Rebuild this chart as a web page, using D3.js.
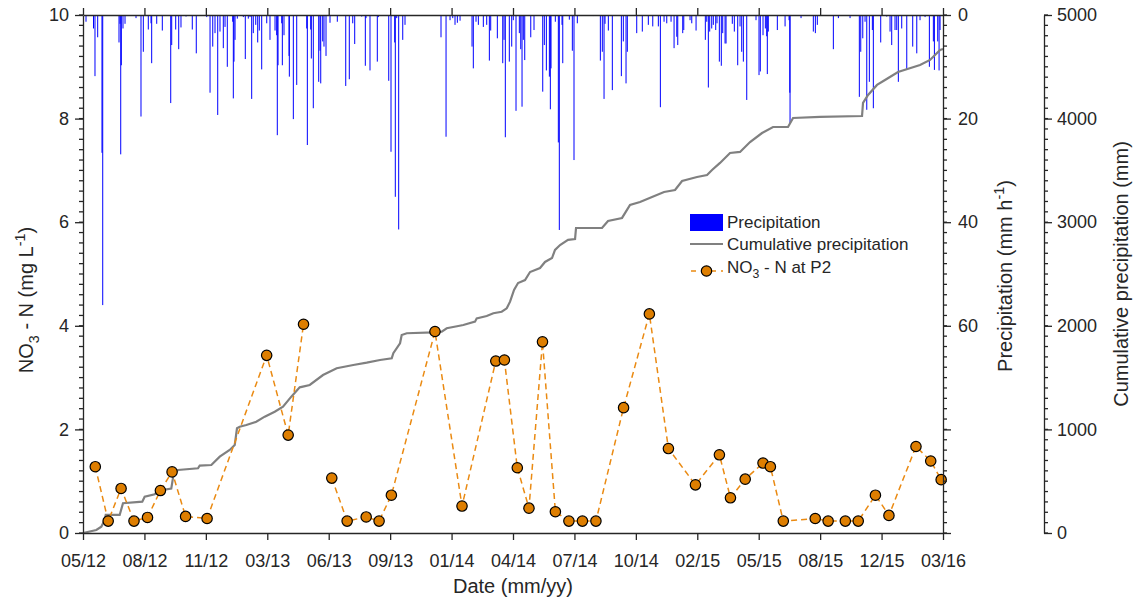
<!DOCTYPE html>
<html>
<head>
<meta charset="utf-8">
<script src="https://cdn.jsdelivr.net/npm/d3@7"></script>
<style>
  body { margin: 0; background: #fff; }
  text { font-family: "Liberation Sans", Arial, sans-serif; fill: #262626; }
</style>
</head>
<body>
<svg id="chart" width="1134" height="602"></svg>
<script>
// ---- data ---------------------------------------------------------------
const startDate = "2012-05-12";
const endDate = "2016-03-12";
const tickStepDays = 100;           // date ticks every 100 days
const tickCount = 15;

// NO3-N samples at P2 (mg/L); null = no sample analysed
const sampleDates = [
  "2012-06-01","2012-06-22","2012-07-13","2012-08-03","2012-08-25","2012-09-15",
  "2012-10-04","2012-10-26","2012-11-30","2013-03-07","2013-04-11","2013-05-06",
  "2013-05-28",
  "2013-06-21","2013-07-16","2013-08-16","2013-09-06","2013-09-26","2013-12-06",
  "2014-01-19","2014-03-15","2014-03-29","2014-04-19","2014-05-08","2014-05-30",
  "2014-06-20","2014-07-12","2014-08-03","2014-08-25","2014-10-09","2014-11-20",
  "2014-12-21","2015-02-03","2015-03-14","2015-04-01","2015-04-25","2015-05-24",
  "2015-06-05","2015-06-26","2015-08-17","2015-09-07","2015-10-05","2015-10-26",
  "2015-11-23","2015-12-15","2016-01-28","2016-02-21","2016-03-09"
];
const no3Values = [
  1.28, 0.23, 0.86, 0.23, 0.30, 0.82,
  1.18, 0.32, 0.28, 3.43, 1.89, 4.03,
  null,
  1.06, 0.23, 0.31, 0.23, 0.73, 3.89,
  0.52, 3.32, 3.34, 1.26, 0.48, 3.69,
  0.41, 0.23, 0.23, 0.23, 2.42, 4.23,
  1.63, 0.93, 1.51, 0.68, 1.04, 1.35,
  1.28, 0.23, 0.28, 0.23, 0.23, 0.23,
  0.73, 0.34, 1.67, 1.39, 1.03
];

// hourly precipitation events: [days after start, mm/h]
const precipEvents = [
  [4.9,1.3],[17.1,2.6],[19.5,11.8],[23.9,4.3],[30.9,26.6],[32.1,56.0],[58.6,5.3],[60.2,1.7],
  [61.4,26.9],[62.4,9.7],[65.1,2.6],[68.4,1.7],[86.3,0.6],[94.4,19.6],[98.2,7.1],[106.3,2.8],
  [110.7,1.6],[111.8,9.3],[120.0,1.7],[129.1,3.0],[142.8,17.0],[144.4,5.8],[150.9,2.8],[155.8,6.6],
  [159.5,2.4],[167.7,0.3],[177.9,2.8],[184.4,7.4],[201.4,0.4],[206.8,15.0],[211.2,6.1],[214.9,3.5],
  [219.3,19.3],[223.0,3.2],[228.4,6.4],[231.2,2.3],[234.9,10.0],[243.7,1.3],[244.7,16.1],[245.8,9.0],
  [247.5,4.8],[251.2,0.7],[261.0,0.4],[264.2,8.5],[269.1,0.7],[271.9,0.4],[274.6,16.2],[277.2,3.5],
  [281.2,1.9],[284.4,5.3],[287.0,3.0],[290.9,10.5],[299.1,1.6],[304.4,4.8],[312.6,3.0],[315.3,3.9],
  [316.3,23.2],[317.5,9.7],[323.5,1.6],[324.5,9.7],[327.2,3.9],[335.4,7.9],[335.9,11.9],[342.4,20.1],
  [347.9,13.5],[364.2,2.6],[365.2,25.1],[370.7,2.8],[371.7,8.4],[374.9,18.0],[383.7,12.9],[385.8,6.9],
  [387.0,13.2],[390.2,5.1],[392.3,6.1],[395.6,7.9],[402.1,1.5],[414.0,1.3],[427.7,13.7],[433.5,12.4],
  [439.1,1.6],[442.3,5.6],[453.7,0.3],[459.6,9.8],[460.7,0.6],[467.2,10.7],[479.1,9.0],[480.8,0.4],
  [497.7,12.7],[501.4,26.4],[507.4,5.3],[508.4,35.1],[510.7,0.6],[513.9,41.4],[520.5,4.8],[524.2,1.9],
  [582.8,4.3],[591.0,23.5],[597.5,1.0],[601.9,0.6],[605.6,1.9],[609.4,1.5],[613.8,1.1],[633.3,6.1],
  [635.4,10.3],[639.8,1.3],[643.6,1.9],[651.7,2.3],[657.2,1.9],[661.5,8.8],[663.7,3.0],[674.5,4.5],
  [683.3,9.3],[685.4,4.8],[687.5,23.6],[694.0,9.0],[697.9,6.1],[700.5,1.0],[704.9,18.5],[710.3,3.5],
  [712.6,6.6],[714.7,17.7],[716.8,4.8],[719.1,8.7],[728.9,4.3],[734.2,2.9],[748.4,14.8],[751.0,5.8],
  [754.3,10.7],[759.2,11.9],[760.8,18.2],[761.9,10.3],[768.9,1.3],[773.8,24.6],[775.4,41.5],[779.8,1.9],
  [781.0,9.3],[791.7,0.9],[796.6,6.9],[799.3,28.0],[804.7,1.6],[830.8,0.2],[842.2,8.8],[845.4,7.1],
  [848.2,16.2],[849.8,1.7],[855.2,3.0],[861.7,14.5],[876.4,11.8],[879.6,5.1],[884.0,13.2],[886.1,7.1],
  [901.4,3.5],[910.5,3.2],[920.3,1.9],[927.5,2.2],[936.6,2.2],[939.9,17.8],[945.9,1.3],[950.3,1.6],
  [957.3,1.3],[962.2,6.4],[966.6,4.2],[968.2,5.8],[976.3,3.5],[978.0,2.9],[988.2,1.0],[991.0,1.6],
  [998.0,3.0],[1013.1,4.8],[1015.4,1.3],[1018.0,14.0],[1020.2,3.2],[1023.5,2.6],[1026.1,1.9],[1030.0,2.9],
  [1032.1,1.6],[1035.9,9.0],[1039.1,9.8],[1041.4,3.5],[1045.2,5.5],[1046.8,5.5],[1057.0,1.7],[1060.3,3.2],
  [1065.8,9.7],[1069.6,2.2],[1072.3,7.1],[1075.0,9.0],[1080.5,16.4],[1095.6,1.0],[1100.5,11.6],[1102.6,10.9],
  [1107.0,3.9],[1110.8,2.6],[1113.0,4.1],[1114.0,11.4],[1115.6,3.2],[1130.3,2.9],[1142.9,2.2],[1149.4,1.0],
  [1150.6,15.0],[1151.0,21.0],[1168.9,0.6],[1188.9,3.2],[1192.2,3.5],[1195.4,1.9],[1221.5,6.6],[1229.7,0.6],
  [1248.7,0.6],[1263.8,15.8],[1266.1,7.1],[1269.4,4.5],[1273.1,1.3],[1275.9,18.3],[1280.1,12.9],[1285.0,2.9],
  [1286.6,18.0],[1298.6,5.3],[1308.4,0.3],[1313.8,3.2],[1316.5,5.8],[1321.9,2.9],[1324.7,2.9],[1327.3,12.9],
  [1332.8,2.6],[1341.0,10.6],[1350.7,6.1],[1357.3,7.4],[1362.6,1.0],[1370.8,0.4],[1377.8,10.0],[1384.3,5.1],
  [1386.0,10.6],[1391.4,5.1],[1393.6,10.7],[1395.2,2.9]
];

// cumulative precipitation: [days after start, mm]
const cumulative = [
  [0,0],[21.7,29],[29.8,61],[35.3,125],[37.0,174],[59.7,174],[65.1,287],[96.5,302],
  [100.4,350],[116.7,374],[122.1,408],[143.7,428],[147.7,576],[154.7,608],[187.2,625],[190.0,650],
  [208.9,656],[222.6,737],[238.8,801],[247.0,849],[250.7,1011],[255.1,1026],[265.9,1043],[282.1,1074],
  [295.8,1123],[312.1,1171],[325.6,1219],[339.1,1316],[352.8,1406],[369.1,1429],[390.7,1525],[413.0,1590],
  [440.0,1622],[461.9,1644],[483.5,1670],[502.6,1686],[505.2,1735],[516.1,1831],[518.8,1911],[527.0,1928],
  [570.3,1937],[584.0,1943],[592.1,1976],[611.0,1998],[619.1,2008],[638.2,2040],[640.9,2072],[657.2,2095],
  [668.0,2121],[681.6,2136],[689.8,2169],[695.2,2233],[701.7,2346],[708.2,2413],[719.6,2442],[727.7,2519],
  [744.0,2558],[752.1,2616],[763.5,2654],[768.4,2732],[776.6,2780],[789.6,2829],[801.0,2838],[802.6,2944],
  [844.9,2944],[854.7,3012],[877.5,3041],[890.5,3166],[906.8,3195],[926.3,3243],[945.9,3292],[963.8,3311],
  [975.2,3398],[999.6,3436],[1015.9,3456],[1024.0,3504],[1037.0,3572],[1053.3,3668],[1069.6,3678],[1085.9,3774],
  [1105.4,3861],[1123.3,3919],[1147.7,3919],[1155.9,4006],[1199.8,4016],[1268.2,4025],[1269.8,4151],[1278.0,4228],
  [1292.6,4325],[1305.6,4373],[1326.8,4450],[1362.6,4518],[1378.9,4566],[1395.2,4663],[1400.0,4672]
];

const no3Ticks = [0, 2, 4, 6, 8, 10];
const precipTicks = [0, 20, 40, 60, 80, 100];
const precipLabelled = [0, 20, 40, 60];
const cumTicks = [0, 1000, 2000, 3000, 4000, 5000];

// ---- layout -------------------------------------------------------------
const L = 83, R = 943, T = 15, B = 533;
const cumAxisX = 1044;
const FS = 18;      // tick labels
const TFS = 20;     // axis titles
const AXIS = "#262626";

const svg = d3.select("#chart");
const parse = d3.utcParse("%Y-%m-%d");
const t0 = parse(startDate), t1 = parse(endDate);
const dayToDate = d => new Date(t0.getTime() + d * 864e5);

const x = d3.scaleUtc().domain([t0, t1]).range([L, R]);
const yN = d3.scaleLinear().domain([0, 10]).range([B, T]);
const yP = d3.scaleLinear().domain([0, 100]).range([T, B]);
const yC = d3.scaleLinear().domain([0, 5000]).range([B, T]);

// ---- precipitation bars (hanging from the top) -------------------------
svg.append("g")
  .selectAll("rect")
  .data(precipEvents)
  .join("rect")
  .attr("x", d => x(dayToDate(d[0])) - 0.5)
  .attr("y", yP(0))
  .attr("width", 1)
  .attr("height", d => yP(d[1]) - yP(0))
  .attr("fill", "#0000ff");

// ---- cumulative precipitation -----------------------------------------
svg.append("path")
  .datum(cumulative)
  .attr("fill", "none")
  .attr("stroke", "#808080")
  .attr("stroke-width", 2.2)
  .attr("d", d3.line().x(d => x(dayToDate(d[0]))).y(d => yC(d[1])));

// ---- NO3-N series ------------------------------------------------------
const samples = sampleDates.map((s, i) => ({ date: parse(s), v: no3Values[i] }));
const DASH = "#ea8a12";
const MARK = "#de7e00";

svg.append("path")
  .datum(samples)
  .attr("fill", "none")
  .attr("stroke", DASH)
  .attr("stroke-width", 1.5)
  .attr("stroke-dasharray", "6,4")
  .attr("d", d3.line().defined(d => d.v !== null).x(d => x(d.date)).y(d => yN(d.v)));

svg.append("g")
  .selectAll("circle")
  .data(samples.filter(d => d.v !== null))
  .join("circle")
  .attr("cx", d => x(d.date))
  .attr("cy", d => yN(d.v))
  .attr("r", 5.2)
  .attr("fill", MARK)
  .attr("stroke", "#000")
  .attr("stroke-width", 1.2);

// ---- axes --------------------------------------------------------------
function styleAxis(g) {
  g.selectAll("path, line").attr("stroke", AXIS).attr("stroke-width", 1.3);
  g.selectAll("text").attr("font-size", FS).attr("fill", AXIS).attr("font-family", null);
}

const dateTicks = d3.range(tickCount).map(k => d3.utcDay.offset(t0, k * tickStepDays));
const fmt = d3.utcFormat("%m/%y");

// bottom date axis
svg.append("g")
  .attr("transform", `translate(0,${B})`)
  .call(d3.axisBottom(x).tickValues(dateTicks).tickFormat(fmt).tickSize(7).tickSizeOuter(0).tickPadding(14))
  .call(styleAxis);

// top frame with date ticks
svg.append("g")
  .attr("transform", `translate(0,${T})`)
  .call(d3.axisTop(x).tickValues(dateTicks).tickFormat("").tickSize(7).tickSizeOuter(0))
  .call(styleAxis);

// minor ticks helper
function minorTicks(g, values, scale, x0, len) {
  g.append("g").selectAll("line").data(values).join("line")
    .attr("x1", x0).attr("x2", x0 + len)
    .attr("y1", d => scale(d)).attr("y2", d => scale(d))
    .attr("stroke", AXIS).attr("stroke-width", 1.3);
}

// left NO3 axis
const gL = svg.append("g");
gL.append("g")
  .attr("transform", `translate(${L},0)`)
  .call(d3.axisLeft(yN).tickValues(no3Ticks).tickSize(8).tickSizeOuter(0).tickPadding(6))
  .call(styleAxis);
minorTicks(gL, d3.range(0, 10.001, 0.2), yN, L, -4);

// right precipitation axis
const gR = svg.append("g");
gR.append("g")
  .attr("transform", `translate(${R},0)`)
  .call(d3.axisRight(yP).tickValues(precipTicks)
    .tickFormat(d => precipLabelled.includes(d) ? d : "")
    .tickSize(8).tickSizeOuter(0).tickPadding(7))
  .call(styleAxis);
minorTicks(gR, d3.range(0, 100.001, 2), yP, R, 4);

// cumulative axis
const gC = svg.append("g");
gC.append("g")
  .attr("transform", `translate(${cumAxisX},0)`)
  .call(d3.axisRight(yC).tickValues(cumTicks).tickFormat(d3.format("d"))
    .tickSize(8).tickSizeOuter(0).tickPadding(5))
  .call(styleAxis);
minorTicks(gC, d3.range(0, 5000.001, 100), yC, cumAxisX, 4);

// ---- titles ------------------------------------------------------------
function richText(sel, parts, size) {
  parts.forEach(p => {
    const t = sel.append("tspan").text(p.t);
    if (p.sub) t.attr("font-size", size * 0.72).attr("dy", size * 0.3);
    else if (p.sup) t.attr("font-size", size * 0.72).attr("dy", -size * 0.42);
    else t.attr("font-size", size);
    if (p.back) t.attr("dy", p.back * size);
  });
}

const tLeft = svg.append("text")
  .attr("transform", `translate(33,${(T + B) / 2 + 26}) rotate(-90)`)
  .attr("text-anchor", "middle").attr("font-size", TFS);
richText(tLeft, [
  { t: "NO" }, { t: "3", sub: true }, { t: " - N (mg L", back: -0.3 },
  { t: "-1", sup: true }, { t: ")", back: 0.42 }
], TFS);

const tPrec = svg.append("text")
  .attr("transform", `translate(1012,${(T + B) / 2 + 2}) rotate(-90)`)
  .attr("text-anchor", "middle").attr("font-size", TFS);
richText(tPrec, [
  { t: "Precipitation (mm h" }, { t: "-1", sup: true }, { t: ")", back: 0.42 }
], TFS);

svg.append("text")
  .attr("transform", `translate(1128,${(T + B) / 2}) rotate(-90)`)
  .attr("text-anchor", "middle").attr("font-size", TFS)
  .text("Cumulative precipitation (mm)");

svg.append("text")
  .attr("x", (L + R) / 2).attr("y", 593)
  .attr("text-anchor", "middle").attr("font-size", TFS)
  .text("Date (mm/yy)");

// ---- legend ------------------------------------------------------------
const lg = svg.append("g").attr("transform", "translate(690,0)");
const LFS = 17;
lg.append("rect").attr("x", 0).attr("y", 214).attr("width", 33).attr("height", 17).attr("fill", "#0000ff");
lg.append("text").attr("x", 37).attr("y", 228).attr("font-size", LFS).text("Precipitation");

lg.append("line").attr("x1", 0).attr("x2", 33).attr("y1", 244).attr("y2", 244)
  .attr("stroke", "#808080").attr("stroke-width", 2.2);
lg.append("text").attr("x", 37).attr("y", 250).attr("font-size", LFS).text("Cumulative precipitation");

lg.append("line").attr("x1", 0).attr("x2", 33).attr("y1", 271).attr("y2", 271)
  .attr("stroke", DASH).attr("stroke-width", 1.5).attr("stroke-dasharray", "5,5").attr("stroke-dashoffset", -1);
lg.append("circle").attr("cx", 16.5).attr("cy", 271).attr("r", 5.2)
  .attr("fill", MARK).attr("stroke", "#000").attr("stroke-width", 1.2);
const tNo3 = lg.append("text").attr("x", 37).attr("y", 273).attr("font-size", LFS);
richText(tNo3, [{ t: "NO" }, { t: "3", sub: true }, { t: " - N at P2", back: -0.3 }], LFS);
</script>
</body>
</html>
